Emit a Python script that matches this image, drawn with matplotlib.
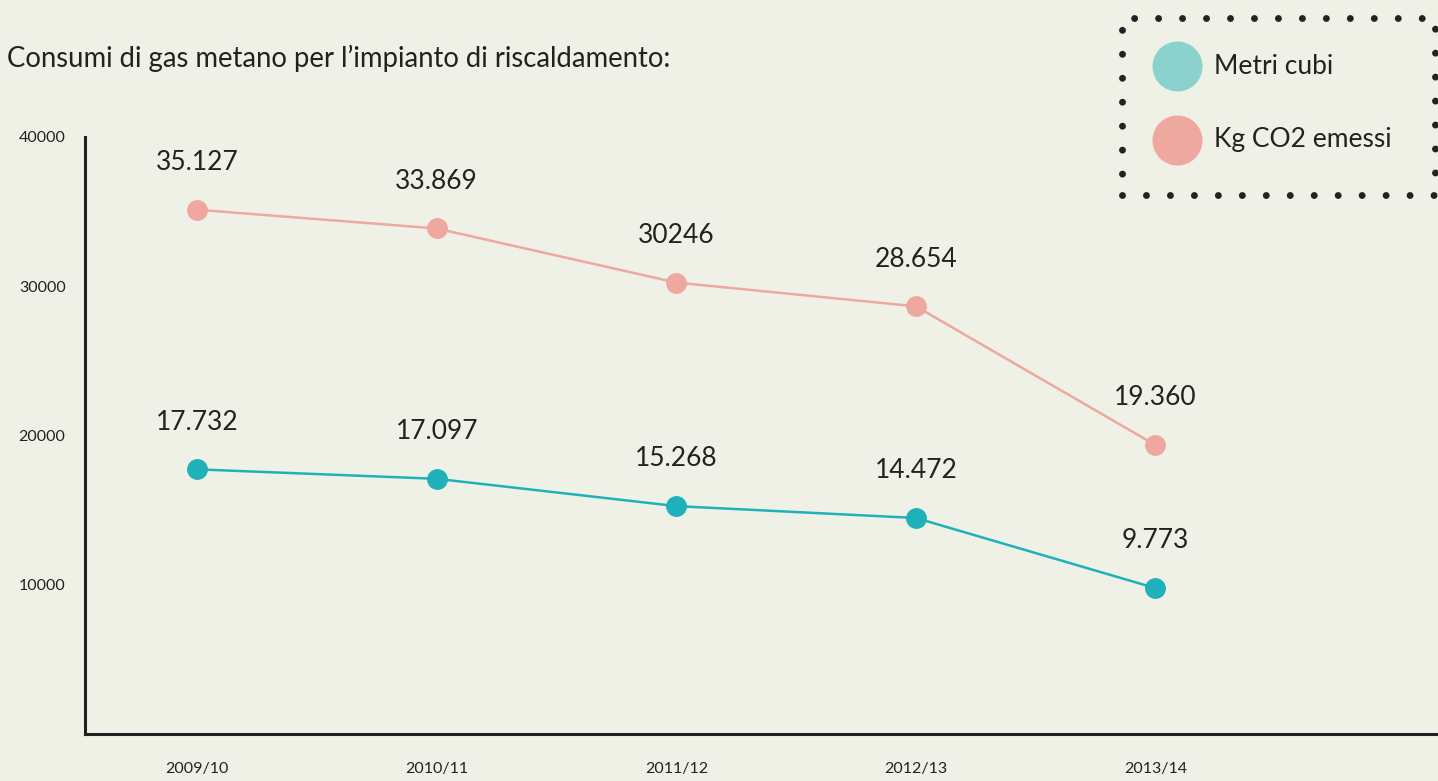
import matplotlib
matplotlib.use("Agg")
import matplotlib.pyplot as plt
from matplotlib.lines import Line2D
from matplotlib.patches import Rectangle

plt.rcParams['font.family'] = ['Lato', 'DejaVu Sans']

# dati dei consumi
stagioni = ["2009/10", "2010/11", "2011/12", "2012/13", "2013/14"]
metri_cubi = [17732, 17097, 15268, 14472, 9773]
kg_co2 = [35127, 33869, 30246, 28654, 19360]
etichette_mc = ["17.732", "17.097", "15.268", "14.472", "9.773"]
etichette_co2 = ["35.127", "33.869", "30246", "28.654", "19.360"]
tick_y = [10000, 20000, 30000, 40000]

sfondo = "#f0f1e6"
teal = "#1fb1b9"
teal_chiaro = "#8bd2cf"
rosa = "#eea89f"
testo = "#222222"

fig = plt.figure(figsize=(14.38, 7.81), dpi=100, facecolor=sfondo)
ax = fig.add_axes([0.0591, 0.0602, 0.941, 0.7644])
ax.set_facecolor(sfondo)

x = list(range(len(stagioni)))
ax.plot(x, kg_co2, color=rosa, lw=1.8, marker="o", ms=14, mec=rosa, mfc=rosa, clip_on=False)
ax.plot(x, metri_cubi, color=teal, lw=1.8, marker="o", ms=14, mec=teal, mfc=teal, clip_on=False)

for xi, v, s in zip(x, kg_co2, etichette_co2):
    ax.annotate(s, (xi, v), xytext=(0, 25), textcoords="offset points",
                ha="center", va="bottom", fontsize=19, color=testo)
for xi, v, s in zip(x, metri_cubi, etichette_mc):
    ax.annotate(s, (xi, v), xytext=(0, 25), textcoords="offset points",
                ha="center", va="bottom", fontsize=19, color=testo)

ax.set_xlim(-0.468, 5.18)
ax.set_ylim(0, 40000)
ax.set_xticks(x)
ax.set_xticklabels(stagioni, fontsize=11.5, color=testo)
ax.set_yticks(tick_y)
ax.set_yticklabels([str(t) for t in tick_y], fontsize=11.5, color=testo)
ax.tick_params(axis="both", length=0)
ax.tick_params(axis="x", pad=20)
ax.tick_params(axis="y", pad=14)

for lato in ["top", "right"]:
    ax.spines[lato].set_visible(False)
for lato in ["left", "bottom"]:
    ax.spines[lato].set_linewidth(2.2)
    ax.spines[lato].set_color(testo)

fig.text(0.005, 0.925, "Consumi di gas metano per l\u2019impianto di riscaldamento:",
         fontsize=19.8, color=testo, va="center", ha="left")

# riquadro della legenda a puntini
bordo = Rectangle((1122 / 1438, 1 - 195 / 781), 313 / 1438, 177 / 781,
                  transform=fig.transFigure, fill=False, edgecolor=testo,
                  linewidth=5, linestyle=(0, (0.001, 3.45)), clip_on=False)
bordo.set_capstyle("round")
fig.add_artist(bordo)

for y_pix, colore, nome in [(66, teal_chiaro, "Metri cubi"), (140, rosa, "Kg CO2 emessi")]:
    yf = 1 - y_pix / 781
    fig.add_artist(Line2D([1177 / 1438], [yf], transform=fig.transFigure, marker="o",
                          ms=35, mfc=colore, mec=colore, ls="none"))
    fig.text(1214 / 1438, yf, nome, fontsize=19, color=testo, va="center", ha="left")

fig.savefig("out.png", dpi=100, facecolor=sfondo)
